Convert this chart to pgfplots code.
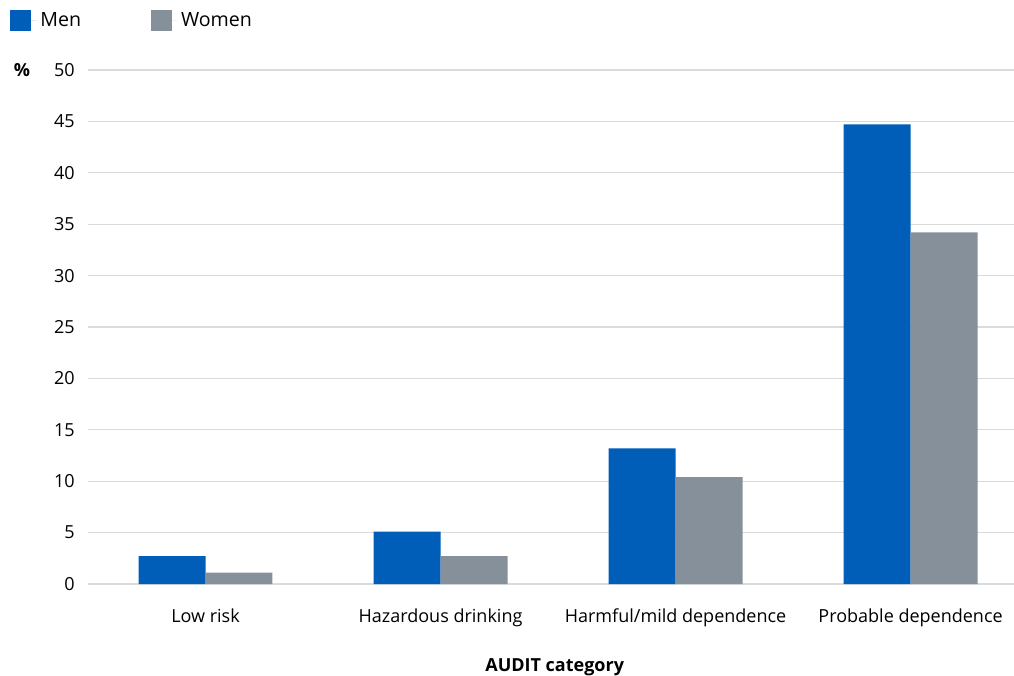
\documentclass[border=0pt]{standalone}
\usepackage{fontspec}
\setmainfont{Open Sans}
\usepackage{pgfplots}
\pgfplotsset{compat=1.18}
\definecolor{nhsblue}{HTML}{005EB8}
\definecolor{nhsgray}{HTML}{86909A}
\definecolor{gridc}{HTML}{D8DCDC}
\begin{document}
\fontsize{9}{11}\selectfont
\begin{tikzpicture}
\useasboundingbox (-44pt,-46pt) rectangle (463pt,292pt);
\begin{axis}[
  at={(0,0)}, anchor=south west,
  scale only axis,
  width=463pt, height=257pt,
  ybar=0pt, bar width=0.285,
  xmin=-0.5, xmax=3.44,
  ymin=0, ymax=50,
  ytick={0,5,...,50},
  xtick={0,1,2,3},
  xticklabels={Low risk, Hazardous drinking, Harmful/mild dependence, Probable dependence},
  /pgf/number format/assume math mode=true,
  ticklabel style={font=\fontsize{9}{11}\selectfont},
  yticklabel style={xshift=-3.5pt},
  xticklabel style={yshift=-9pt},
  major tick length=0pt,
  axis line style={draw=none},
  ymajorgrids, grid style={gridc, line width=0.6pt},
  xlabel={\textbf{AUDIT category}},
  xlabel style={at={(axis description cs:0.504,0)}, anchor=north, yshift=-34pt, font=\fontsize{9}{11}\selectfont},
  legend style={at={(-39pt,281.75pt)}, anchor=west, draw=none, fill=none, legend columns=2,
    font=\fontsize{9.8}{11}\selectfont, /tikz/every even column/.append style={column sep=33pt}, inner sep=0pt, row sep=0pt},
  legend image code/.code={\fill[#1] (0pt,-5.25pt) rectangle (10.5pt,5.25pt); \path (0pt,0pt) -- (13pt,0pt);},
]
\addplot[fill=nhsblue, draw=none] coordinates {(0,2.7) (1,5.1) (2,13.2) (3,44.7)};
\addplot[fill=nhsgray, draw=none] coordinates {(0,1.1) (1,2.7) (2,10.4) (3,34.2)};
\legend{Men, Women}
\end{axis}
\node[anchor=center, font=\fontsize{9}{11}\selectfont\bfseries] at (-33pt,257pt) {\%};
\end{tikzpicture}
\end{document}
